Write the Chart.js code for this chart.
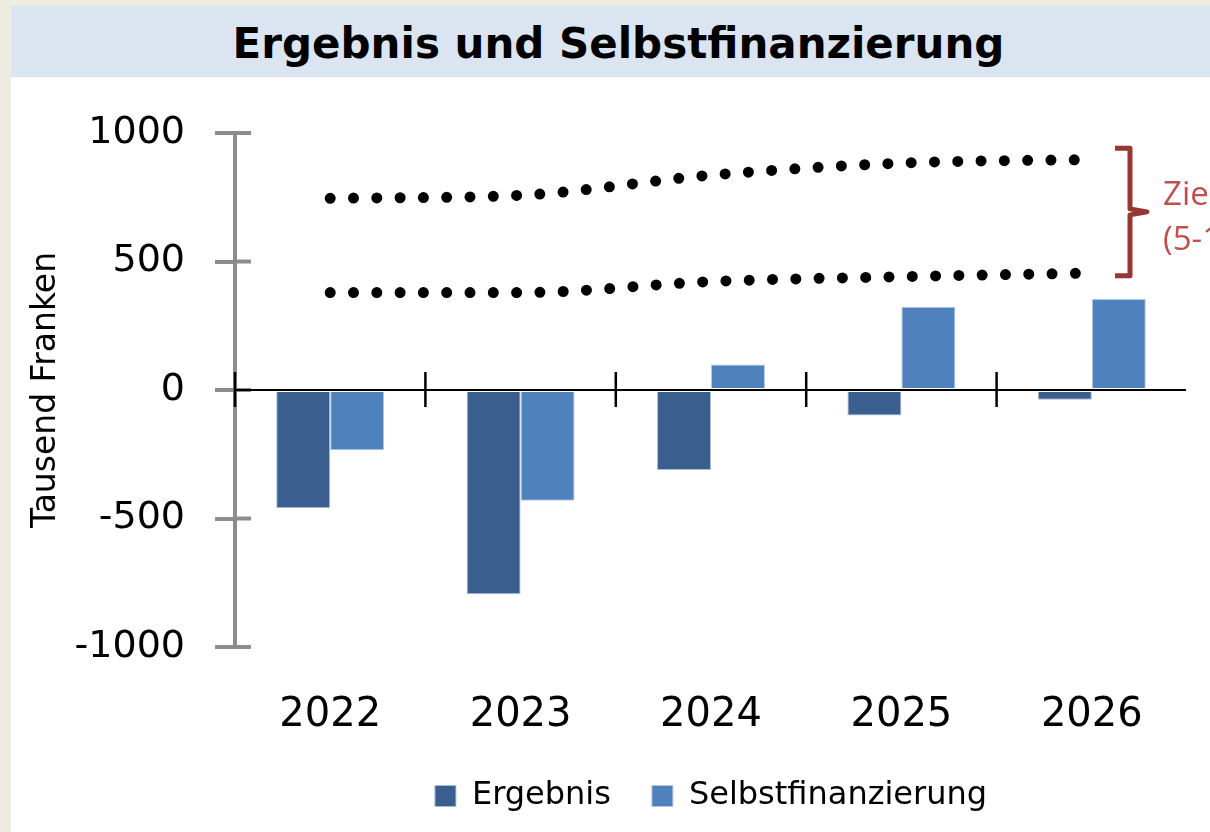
<!DOCTYPE html>
<html>
<head>
<meta charset="utf-8">
<script src="https://cdn.jsdelivr.net/npm/chart.js@4.4.0/dist/chart.umd.min.js"></script>
<style>
    body { margin: 0; width: 1210px; height: 832px; overflow: hidden; position: relative; background: #eeece1; }
    #title { position: absolute; left: 11px; top: 6px; width: 1199px; height: 71px; background: #dbe5f1;
             font: bold 42px 'DejaVu Sans', sans-serif; line-height: 71px; text-align: center;
             padding-left: 16px; box-sizing: border-box; color: #000; }
    #title span { position: relative; top: 2px; }
    #panel { position: absolute; left: 11px; top: 77px; width: 1199px; height: 755px; background: #fff; }
</style>
</head>
<body>
<div id="title"><span>Ergebnis und Selbstfinanzierung</span></div>
<div id="panel"><canvas id="ergebnis_chart"></canvas></div>
<script>
// Werte in Tausend Franken
const years = ['2022', '2023', '2024', '2025', '2026'];
const ergebnis = [-460, -795, -311, -99, -38];
const selbstfinanzierung = [-234, -431, 99, 324, 354];

// Zielband (gepunktete Linien)
const zielOben = [746, 758, 836, 883, 897];
const zielUnten = [379, 379, 422, 441, 455];
const zielKlammer = [445, 941];
const zielText = ['Zielband', '(5-10%)'];

const yTicks = [-1000, -500, 0, 500, 1000];

// Achsenkreuz wie im Original: Striche durch die Achsen, Nulllinie, Klammer
const axisMarks = {
    id: 'axisMarks',
    afterDatasetsDraw(chart) {
        let ctx = chart.ctx;
        let area = chart.chartArea;
        let x = chart.scales.x;
        let y = chart.scales.y;
        let y0 = y.getPixelForValue(0);

        ctx.save();
        ctx.lineCap = 'butt';

        // innere Hälfte der y-Ticks
        ctx.strokeStyle = '#8c8c8c';
        ctx.lineWidth = 4;
        y.ticks.forEach(t => {
            let py = y.getPixelForValue(t.value);
            ctx.beginPath();
            ctx.moveTo(area.left, py);
            ctx.lineTo(area.left + 16, py);
            ctx.stroke();
        });

        // Nulllinie
        ctx.strokeStyle = '#000';
        ctx.lineWidth = 2;
        ctx.beginPath();
        ctx.moveTo(area.left, y0);
        ctx.lineTo(area.right - 1, y0);
        ctx.stroke();

        // Kategorie-Striche
        let step = x.width / years.length;
        ctx.lineWidth = 2.5;
        for (let i = 0; i < years.length; i++) {
            let px = x.left + i * step;
            ctx.beginPath();
            ctx.moveTo(px, y0 - 18);
            ctx.lineTo(px, y0 + 17);
            ctx.stroke();
        }

        // Klammer rechts
        let yTop = y.getPixelForValue(zielKlammer[1]);
        let yBot = y.getPixelForValue(zielKlammer[0]);
        let yMid = (yTop + yBot) / 2;
        let xv = area.right - 57;
        ctx.strokeStyle = '#953735';
        ctx.lineWidth = 5;
        ctx.lineJoin = 'round';
        ctx.beginPath();
        ctx.moveTo(xv - 15, yTop);
        ctx.lineTo(xv, yTop);
        ctx.lineTo(xv, yMid - 3);
        ctx.lineTo(xv + 17, yMid);
        ctx.lineTo(xv, yMid + 3);
        ctx.lineTo(xv, yBot);
        ctx.lineTo(xv - 15, yBot);
        ctx.stroke();

        ctx.fillStyle = '#c0504d';
        ctx.font = '33px "Open Sans"';
        ctx.textAlign = 'left';
        ctx.textBaseline = 'middle';
        ctx.fillText(zielText[0], xv + 33, yMid - 16);
        ctx.fillText(zielText[1], xv + 33, yMid + 29);
        ctx.restore();
    }
};

let data = {
    labels: years,
    datasets: [
        {
            label: 'Ergebnis',
            data: ergebnis,
            backgroundColor: '#3a5f8f',
            borderColor: '#a9bedb',
            borderWidth: 1,
            categoryPercentage: 0.567,
            barPercentage: 1.0,
            order: 2
        },
        {
            label: 'Selbstfinanzierung',
            data: selbstfinanzierung,
            backgroundColor: '#4f81bd',
            borderColor: '#b3c8e4',
            borderWidth: 1,
            categoryPercentage: 0.567,
            barPercentage: 1.0,
            order: 2
        },
        {
            type: 'line',
            label: 'Ziel oben',
            data: zielOben,
            borderColor: '#000',
            borderWidth: 11,
            borderDash: [0, 23.3],
            borderCapStyle: 'round',
            cubicInterpolationMode: 'monotone',
            pointRadius: 0,
            fill: false,
            order: 1
        },
        {
            type: 'line',
            label: 'Ziel unten',
            data: zielUnten,
            borderColor: '#000',
            borderWidth: 11,
            borderDash: [0, 23.3],
            borderCapStyle: 'round',
            cubicInterpolationMode: 'monotone',
            pointRadius: 0,
            fill: false,
            order: 1
        }
    ]
};

let config = {
    type: 'bar',
    data: data,
    plugins: [axisMarks],
    options: {
        responsive: true,
        maintainAspectRatio: false,
        animation: false,
        layout: { padding: { top: 56, right: 23, bottom: 10, left: 0 } },
        plugins: {
            tooltip: { enabled: false },
            legend: {
                position: 'bottom',
                fullSize: false,
                labels: {
                    boxWidth: 21,
                    boxHeight: 21,
                    padding: 41,
                    color: '#000',
                    font: { family: 'DejaVu Sans', size: 32 },
                    filter: item => item.datasetIndex < 2
                }
            }
        },
        scales: {
            x: {
                grid: { display: false, drawTicks: false },
                border: { display: false },
                ticks: { color: '#000', padding: 49, font: { family: 'DejaVu Sans', size: 40, lineHeight: 1 } },
                afterFit: scale => { scale.height = 92; }
            },
            y: {
                min: -1000,
                max: 1000,
                afterBuildTicks: scale => { scale.ticks = yTicks.map(v => ({ value: v })); },
                afterFit: scale => { scale.width = 224; },
                border: { color: '#8c8c8c', width: 4 },
                grid: { drawOnChartArea: false, drawTicks: true, tickLength: 20, color: '#8c8c8c', lineWidth: 4 },
                ticks: {
                    color: '#000',
                    padding: 30,
                    font: { family: 'DejaVu Sans', size: 38 },
                    callback: v => String(v)
                },
                title: {
                    display: true,
                    text: 'Tausend Franken',
                    color: '#000',
                    padding: { top: 16, bottom: 0 },
                    font: { family: 'DejaVu Sans', size: 33 }
                }
            }
        }
    }
};

let ergebnis_chart = new Chart(document.getElementById('ergebnis_chart'), config);
</script>
</body>
</html>
